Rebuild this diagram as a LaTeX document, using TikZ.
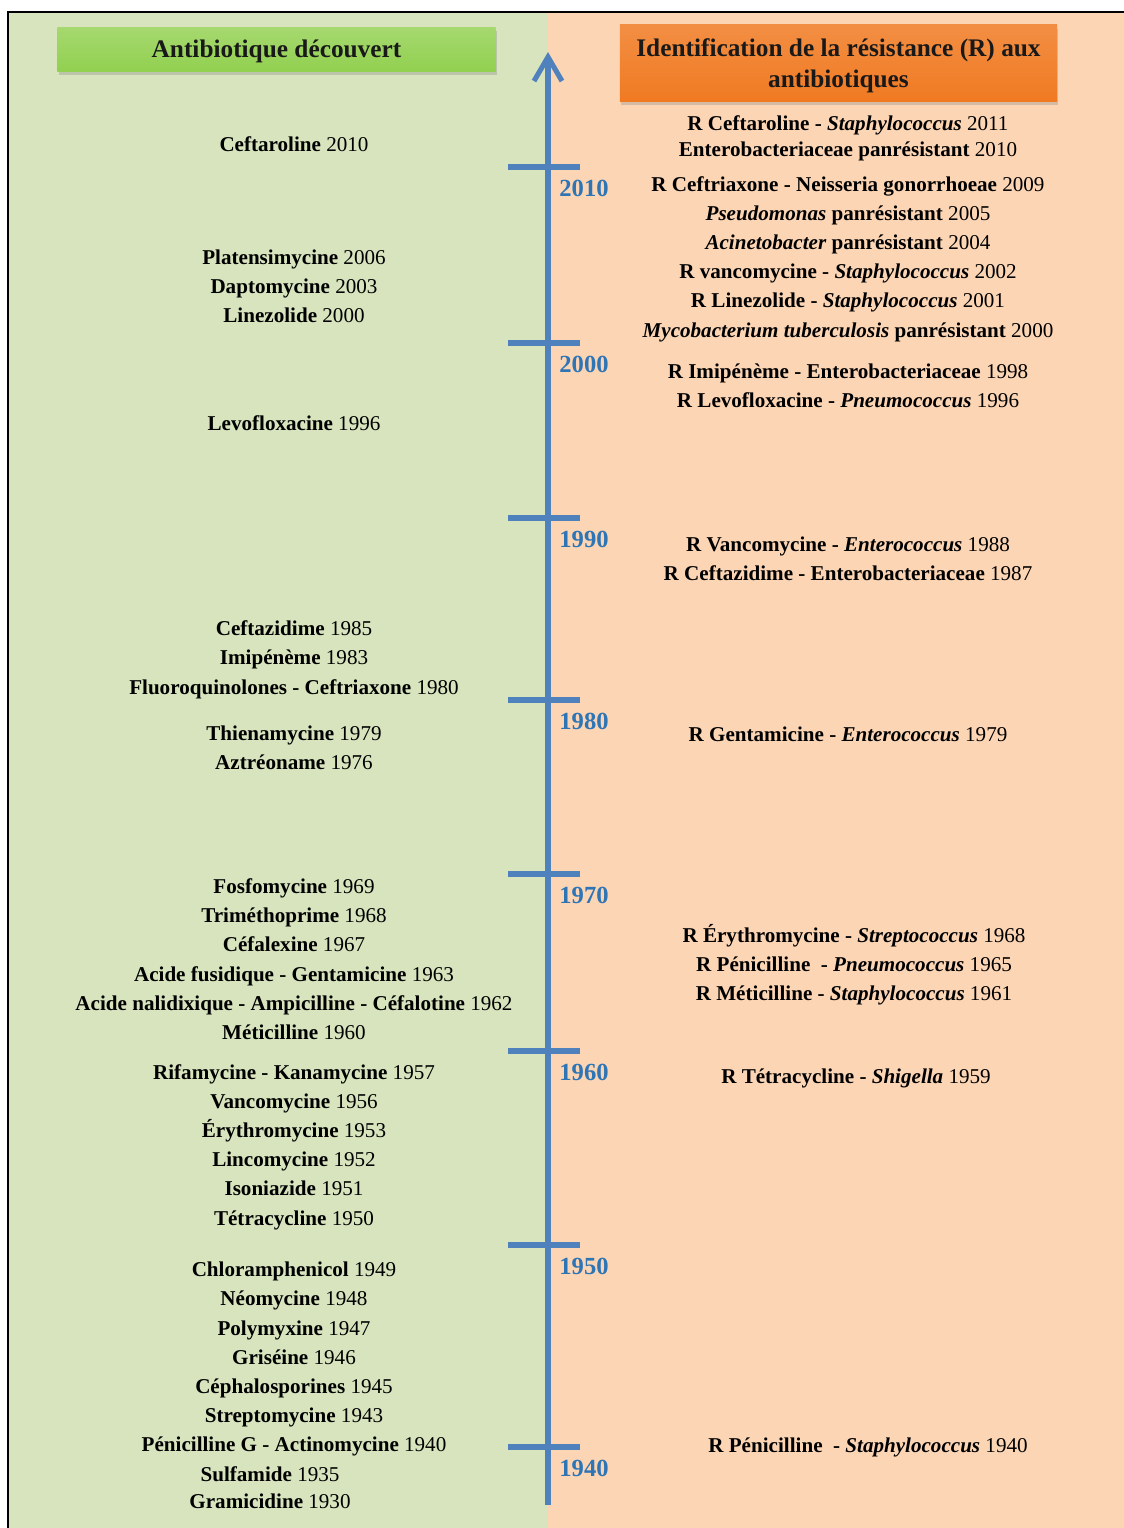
\documentclass[tikz,border=0pt]{standalone}
\usepackage{fontspec}
\setmainfont{Liberation Serif}
\usetikzlibrary{arrows.meta}
\usetikzlibrary{shadows}

\definecolor{bggreen}{HTML}{D7E4BD}
\definecolor{bgpeach}{HTML}{FCD5B5}
\definecolor{headgreen}{HTML}{92D050}
\definecolor{headorange}{HTML}{F07A22}
\definecolor{axisblue}{HTML}{4F81BD}
\definecolor{yearblue}{HTML}{2E75B6}

\tikzset{
    disc/.style = {anchor=base, align=center, font=\fontsize{15}{17}\selectfont\bfseries},
    resi/.style = {anchor=base, align=center, font=\fontsize{15}{17}\selectfont\bfseries},
    yearlbl/.style = {anchor=base, text=yearblue, font=\fontsize{17.5}{20}\selectfont\bfseries},
    tickline/.style = {axisblue, line width=3.6pt},
    headbox/.style = {align=center, inner sep=0pt, text depth=0pt, text=black!90, font=\fontsize{18}{22}\selectfont\bfseries,
        drop shadow={shadow xshift=1pt, shadow yshift=-2.5pt, opacity=0.3}},
}

\begin{document}
\begin{tikzpicture}[x=0.025cm, y=-0.025cm]
    \useasboundingbox (0, 0) rectangle (1124, 1528);
    \fill[white] (0, 0) rectangle (1124, 1528);
    \fill[bggreen] (8, 12) rectangle (548, 1528);
    \fill[bgpeach] (548, 12) rectangle (1124, 1528);
    \draw[line width=0.8pt] (8, 1528) -- (8, 12) -- (1124, 12);

    % headers
    \node[headbox, top color=headgreen!82!white, bottom color=headgreen,
        minimum width=10.95cm, minimum height=1.1cm] (hdisc) at (276.5, 49) {Antibiotique découvert};
    \node[headbox, top color=headorange!85!white, bottom color=headorange,
        minimum width=10.925cm, minimum height=1.9cm] (hresi) at (838.5, 63)
        {Identification de la résistance (R) aux\\antibiotiques};

    % axis
    \coordinate (axisbot) at (548, 1505);
    \coordinate (axistop) at (548, 52);
    \draw[tickline, -{Straight Barb[length=0.6cm, width=0.7cm]}] (axisbot) -- (axistop);
    \foreach \yr/\ty in {2010/167, 2000/343, 1990/518, 1980/700, 1970/874, 1960/1051, 1950/1245, 1940/1447} {
        \draw[tickline] (508, \ty) -- (580, \ty);
        \node[yearlbl] (y\yr) at (584, \ty+29) {\yr};
    }

    % antibiotique decouvert
    \node[disc] (d2010) at (294, 151) {Ceftaroline \textmd{2010}};
    \node[disc] (d2006) at (294, 264) {Platensimycine \textmd{2006}};
    \node[disc] (d2003) at (294, 293) {Daptomycine \textmd{2003}};
    \node[disc] (d2000) at (294, 322) {Linezolide \textmd{2000}};
    \node[disc] (d1996) at (294, 430) {Levofloxacine \textmd{1996}};
    \node[disc] (d1985) at (294, 635) {Ceftazidime \textmd{1985}};
    \node[disc] (d1983) at (294, 664) {Imipénème \textmd{1983}};
    \node[disc] (d1980) at (294, 694) {Fluoroquinolones - Ceftriaxone \textmd{1980}};
    \node[disc] (d1979) at (294, 740) {Thienamycine \textmd{1979}};
    \node[disc] (d1976) at (294, 769) {Aztréoname \textmd{1976}};
    \node[disc] (d1969) at (294, 893) {Fosfomycine \textmd{1969}};
    \node[disc] (d1968) at (294, 922) {Triméthoprime \textmd{1968}};
    \node[disc] (d1967) at (294, 951) {Céfalexine \textmd{1967}};
    \node[disc] (d1963) at (294, 981) {Acide fusidique - Gentamicine \textmd{1963}};
    \node[disc] (d1962) at (294, 1010) {Acide nalidixique - Ampicilline - Céfalotine \textmd{1962}};
    \node[disc] (d1960) at (294, 1039) {Méticilline \textmd{1960}};
    \node[disc] (d1957) at (294, 1079) {Rifamycine - Kanamycine \textmd{1957}};
    \node[disc] (d1956) at (294, 1108) {Vancomycine \textmd{1956}};
    \node[disc] (d1953) at (294, 1137) {Érythromycine \textmd{1953}};
    \node[disc] (d1952) at (294, 1166) {Lincomycine \textmd{1952}};
    \node[disc] (d1951) at (294, 1195) {Isoniazide \textmd{1951}};
    \node[disc] (d1950) at (294, 1225) {Tétracycline \textmd{1950}};
    \node[disc] (d1949) at (294, 1276) {Chloramphenicol \textmd{1949}};
    \node[disc] (d1948) at (294, 1305) {Néomycine \textmd{1948}};
    \node[disc] (d1947) at (294, 1335) {Polymyxine \textmd{1947}};
    \node[disc] (d1946) at (294, 1364) {Griséine \textmd{1946}};
    \node[disc] (d1945) at (294, 1393) {Céphalosporines \textmd{1945}};
    \node[disc] (d1943) at (294, 1422) {Streptomycine \textmd{1943}};
    \node[disc] (d1940) at (294, 1451) {Pénicilline G - Actinomycine \textmd{1940}};
    \node[disc] (d1935) at (270, 1481) {Sulfamide \textmd{1935}};
    \node[disc] (d1930) at (270, 1508) {Gramicidine \textmd{1930}};

    % resistance
    \node[resi] (r2011) at (848, 130) {R Ceftaroline - \textit{Staphylococcus} \textmd{2011}};
    \node[resi] (r2010) at (848, 156) {Enterobacteriaceae panrésistant \textmd{2010}};
    \node[resi] (r2009) at (848, 191) {R Ceftriaxone - Neisseria gonorrhoeae \textmd{2009}};
    \node[resi] (r2005) at (848, 220) {\textit{Pseudomonas} panrésistant \textmd{2005}};
    \node[resi] (r2004) at (848, 249) {\textit{Acinetobacter} panrésistant \textmd{2004}};
    \node[resi] (r2002) at (848, 278) {R vancomycine - \textit{Staphylococcus} \textmd{2002}};
    \node[resi] (r2001) at (848, 307) {R Linezolide - \textit{Staphylococcus} \textmd{2001}};
    \node[resi] (r2000) at (848, 337) {\textit{Mycobacterium tuberculosis} panrésistant \textmd{2000}};
    \node[resi] (r1998) at (848, 378) {R Imipénème - Enterobacteriaceae \textmd{1998}};
    \node[resi] (r1996) at (848, 407) {R Levofloxacine - \textit{Pneumococcus} \textmd{1996}};
    \node[resi] (r1988) at (848, 551) {R Vancomycine - \textit{Enterococcus} \textmd{1988}};
    \node[resi] (r1987) at (848, 580) {R Ceftazidime - Enterobacteriaceae \textmd{1987}};
    \node[resi] (r1979) at (848, 741) {R Gentamicine - \textit{Enterococcus} \textmd{1979}};
    \node[resi] (r1968) at (854, 942) {R Érythromycine - \textit{Streptococcus} \textmd{1968}};
    \node[resi] (r1965) at (854, 971) {R Pénicilline \ - \textit{Pneumococcus} \textmd{1965}};
    \node[resi] (r1961) at (854, 1000) {R Méticilline - \textit{Staphylococcus} \textmd{1961}};
    \node[resi] (r1959) at (856, 1083) {R Tétracycline - \textit{Shigella} \textmd{1959}};
    \node[resi] (r1940) at (868, 1452) {R Pénicilline \ - \textit{Staphylococcus} \textmd{1940}};
\end{tikzpicture}
\end{document}
